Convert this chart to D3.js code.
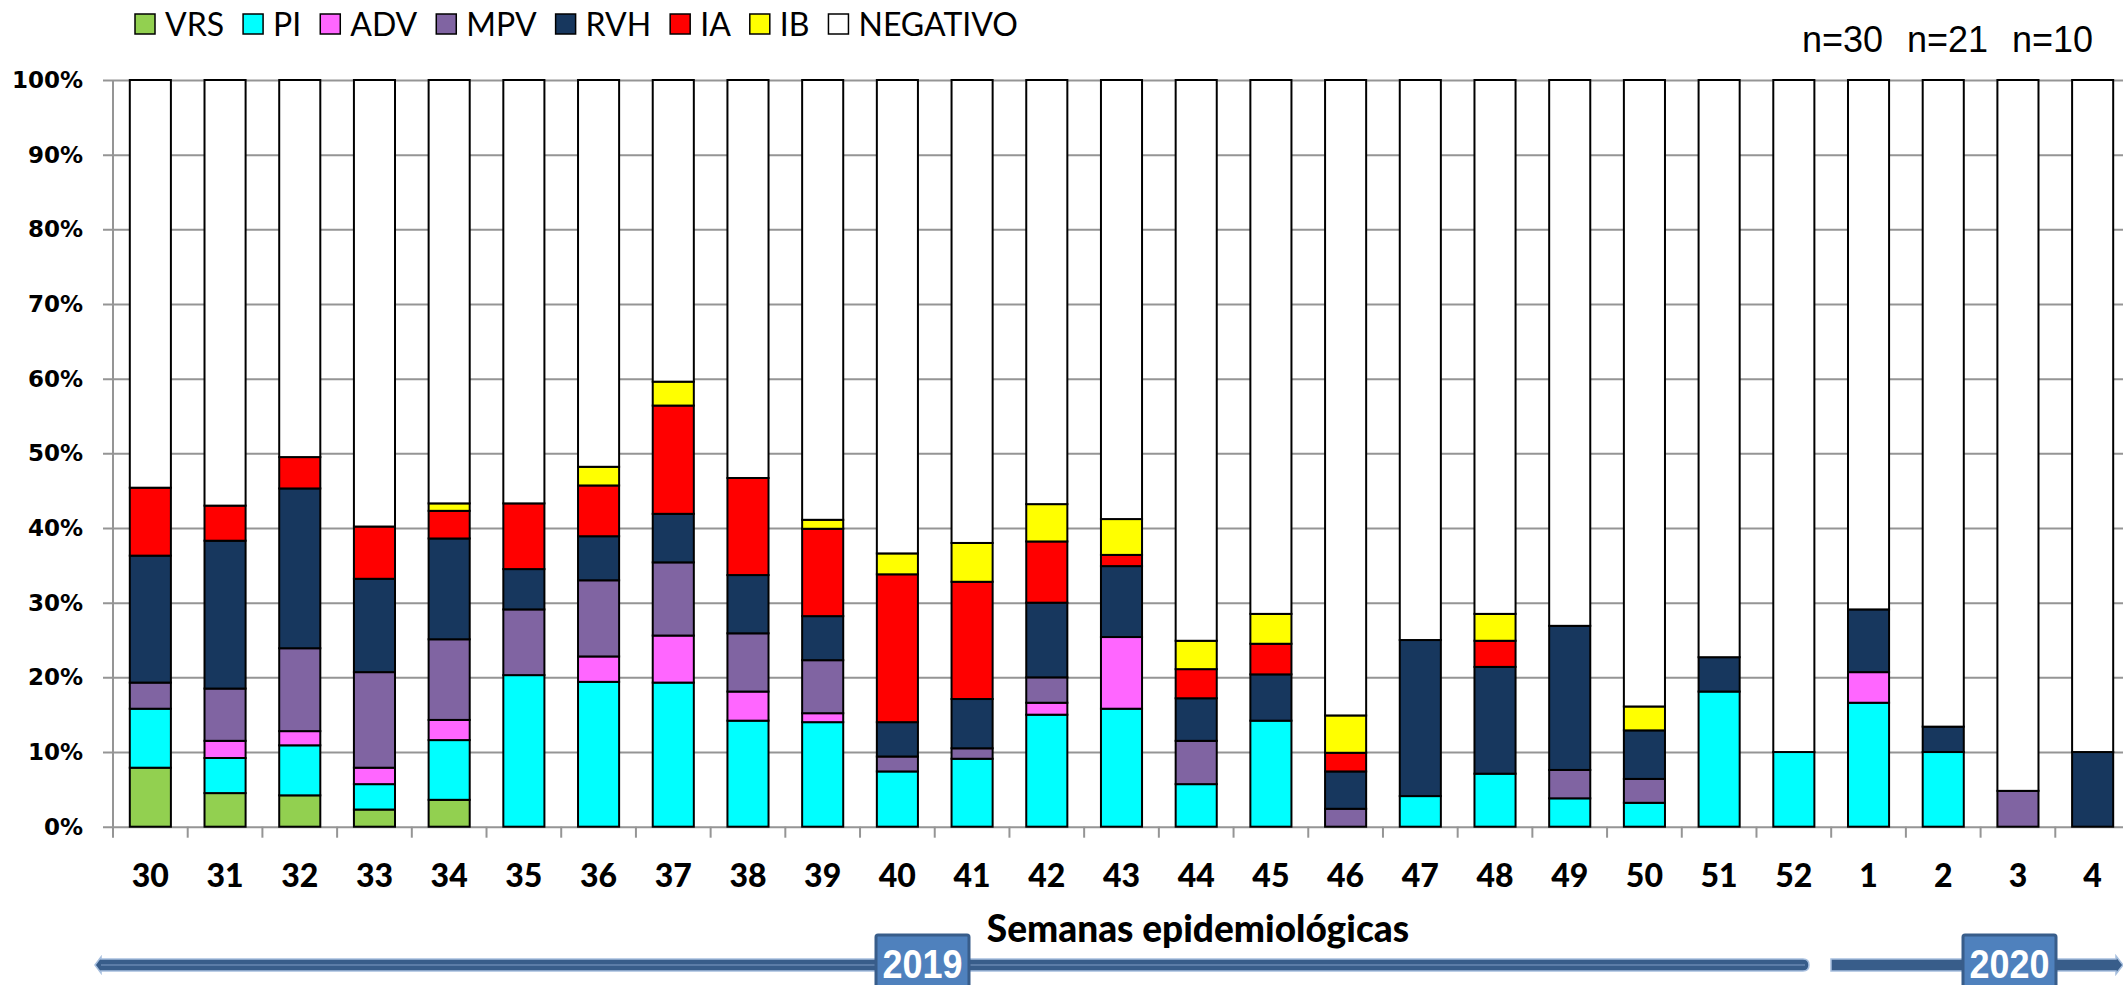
<!DOCTYPE html>
<html>
<head>
<meta charset="utf-8">
<script src="https://cdn.jsdelivr.net/npm/d3@7"></script>
<style>
  body { margin: 0; background: #fff; }
  svg { display: block; }
</style>
</head>
<body>
<div id="chart"></div>
<script>
// Semanas epidemiológicas 2019-2020, % de muestras por virus.
var weeks = ['30','31','32','33','34','35','36','37','38','39','40','41','42','43','44','45','46','47','48','49','50','51','52','1','2','3','4'];

var VRS = [7.9, 4.5, 4.2, 2.3, 3.6, 0, 0, 0, 0, 0, 0, 0, 0, 0, 0, 0, 0, 0, 0, 0, 0, 0, 0, 0, 0, 0, 0];
var PI  = [7.9, 4.7, 6.7, 3.4, 8.0, 20.3, 19.4, 19.3, 14.2, 14.0, 7.4, 9.1, 15.0, 15.8, 5.7, 14.2, 0, 4.1, 7.1, 3.8, 3.2, 18.1, 10.0, 16.6, 10.0, 0, 0];
var ADV = [0, 2.3, 1.9, 2.2, 2.7, 0, 3.4, 6.3, 3.9, 1.2, 0, 0, 1.6, 9.6, 0, 0, 0, 0, 0, 0, 0, 0, 0, 4.1, 0, 0, 0];
var MPV = [3.5, 7.0, 11.1, 12.8, 10.8, 8.8, 10.2, 9.8, 7.8, 7.1, 2.0, 1.4, 3.4, 0, 5.8, 0, 2.4, 0, 0, 3.8, 3.2, 0, 0, 0, 0, 4.8, 0];
var RVH = [17.0, 19.8, 21.4, 12.5, 13.5, 5.4, 5.9, 6.5, 7.8, 5.9, 4.6, 6.6, 10.0, 9.5, 5.7, 6.2, 5.0, 20.9, 14.3, 19.3, 6.5, 4.6, 0, 8.4, 3.4, 0, 10.0];
var IA  = [9.1, 4.7, 4.2, 7.0, 3.7, 8.8, 6.8, 14.5, 13.0, 11.7, 19.8, 15.7, 8.2, 1.5, 3.9, 4.1, 2.5, 0, 3.5, 0, 0, 0, 0, 0, 0, 0, 0];
var IB  = [0, 0, 0, 0, 1.0, 0, 2.5, 3.2, 0, 1.2, 2.8, 5.2, 5.0, 4.8, 3.8, 4.0, 5.0, 0, 3.6, 0, 3.2, 0, 0, 0, 0, 0, 0];

var seriesNames = ['VRS', 'PI', 'ADV', 'MPV', 'RVH', 'IA', 'IB', 'NEGATIVO'];
var seriesColors = ['#92D050', '#00FFFF', '#FF66FF', '#8064A2', '#17375E', '#FF0000', '#FFFF00', '#FFFFFF'];
var yTicks = [0, 10, 20, 30, 40, 50, 60, 70, 80, 90, 100];
var nLabels = ['n=30', 'n=21', 'n=10'];
var years = ['2019', '2020'];

var W = 2123, H = 985;
var plot = {left: 113, right: 2130, top: 80, bottom: 826.7};

var svg = d3.select('#chart').append('svg')
    .attr('width', W)
    .attr('height', H);

// Build rows for the stack; negative is the remainder to 100 %.
var positives = [VRS, PI, ADV, MPV, RVH, IA, IB];
var rows = weeks.map(function(w, i) {
    var r = {week: w}, sum = 0;
    positives.forEach(function(arr, k) { r[seriesNames[k]] = arr[i]; sum += arr[i]; });
    r.NEGATIVO = 100 - sum;
    return r;
});

var x = d3.scaleBand()
    .domain(weeks)
    .range([plot.left, plot.right])
    .paddingInner(0.45)
    .paddingOuter(0.225);

var y = d3.scaleLinear()
    .domain([0, 100])
    .range([plot.bottom, plot.top]);

var color = d3.scaleOrdinal().domain(seriesNames).range(seriesColors);

// Gridlines + y labels.
var yAxis = d3.axisLeft(y)
    .tickValues(yTicks)
    .tickSize(-(plot.right - plot.left))
    .tickSizeOuter(0)
    .tickPadding(30)
    .tickFormat(function(d) { return d + '%'; });

var gy = svg.append('g')
    .attr('transform', 'translate(' + plot.left + ',0)')
    .call(yAxis);
gy.select('.domain').remove();
gy.selectAll('.tick line')
    .attr('x1', -10)
    .attr('stroke', '#959595')
    .attr('stroke-width', 2);
gy.selectAll('.tick text')
    .attr('fill', '#000')
    .style('font-family', '"DejaVu Sans", Verdana, sans-serif')
    .style('font-weight', 'bold')
    .style('font-size', '23px');

// Vertical axis line.
svg.append('line')
    .attr('x1', plot.left).attr('x2', plot.left)
    .attr('y1', plot.top).attr('y2', plot.bottom + 11)
    .attr('stroke', '#959595')
    .attr('stroke-width', 2);

// Category ticks between the bars.
svg.append('g').selectAll('line')
    .data(weeks.slice(1))
    .enter().append('line')
    .attr('x1', function(d) { return x(d) - x.step() * x.paddingInner() / 2; })
    .attr('x2', function(d) { return x(d) - x.step() * x.paddingInner() / 2; })
    .attr('y1', plot.bottom)
    .attr('y2', plot.bottom + 11)
    .attr('stroke', '#959595')
    .attr('stroke-width', 2);

// Stacked bars.
var stack = d3.stack().keys(seriesNames);
var layers = stack(rows);

svg.append('g').selectAll('g')
    .data(layers)
    .enter().append('g')
    .attr('fill', function(d) { return color(d.key); })
  .selectAll('rect')
    .data(function(d) { return d.filter(function(s) { return s[1] - s[0] > 0; }); })
    .enter().append('rect')
    .attr('x', function(d) { return x(d.data.week); })
    .attr('width', x.bandwidth())
    .attr('y', function(d) { return y(d[1]); })
    .attr('height', function(d) { return y(d[0]) - y(d[1]); })
    .attr('stroke', '#000')
    .attr('stroke-width', 2);

// X labels.
svg.append('g').selectAll('text')
    .data(weeks)
    .enter().append('text')
    .attr('x', function(d) { return x(d) + x.bandwidth() / 2; })
    .attr('y', 887)
    .attr('text-anchor', 'middle')
    .style('font-family', 'Lato, sans-serif')
    .style('font-weight', 900)
    .style('font-size', '32px')
    .text(function(d) { return d; });

// Axis title.
svg.append('text')
    .attr('x', 1198)
    .attr('y', 942)
    .attr('text-anchor', 'middle')
    .style('font-family', 'Lato, sans-serif')
    .style('font-weight', 900)
    .style('font-size', '37px')
    .text('Semanas epidemiológicas');

// Legend.
var legend = svg.append('g');
var lx = 135;
seriesNames.forEach(function(name, i) {
    legend.append('rect')
        .attr('x', lx).attr('y', 14)
        .attr('width', 20).attr('height', 20)
        .attr('fill', seriesColors[i])
        .attr('stroke', '#000')
        .attr('stroke-width', 1.5);
    var t = legend.append('text')
        .attr('x', lx + 30)
        .attr('y', 36)
        .style('font-family', 'Lato, sans-serif')
        .style('font-size', '32px')
        .text(name);
    lx += 30 + t.node().getComputedTextLength() + 19;
});

// n= annotations.
var nX = [1802, 1907, 2012];
svg.append('g').selectAll('text')
    .data(nLabels)
    .enter().append('text')
    .attr('x', function(d, i) { return nX[i]; })
    .attr('y', 52)
    .style('font-family', '"Liberation Sans", Arial, sans-serif')
    .style('font-size', '36px')
    .text(function(d) { return d; });

// Year arrows.
var arrowFill = '#385D8A', arrowEdge = '#A7BFDE';
var ay = 965, ah = 6;
var g19 = svg.append('g');
g19.append('path')
    .attr('d', 'M' + 95 + ',' + ay + ' L' + 101 + ',' + (ay - ah - 2) + ' L' + 101 + ',' + (ay - ah) +
        ' L1803,' + (ay - ah) + ' Q1809,' + (ay - ah) + ' 1809,' + ay + ' Q1809,' + (ay + ah) + ' 1803,' + (ay + ah) +
        ' L101,' + (ay + ah) + ' L101,' + (ay + ah + 2) + ' Z')
    .attr('fill', arrowFill)
    .attr('stroke', arrowEdge)
    .attr('stroke-width', 1.5);
g19.append('line')
    .attr('x1', 101).attr('x2', 1805)
    .attr('y1', ay).attr('y2', ay)
    .attr('stroke', '#7f9cc4')
    .attr('stroke-width', 1);

svg.append('path')
    .attr('d', 'M1831,' + (ay - ah) + ' L2116,' + (ay - ah) + ' L2116,' + (ay - ah - 3) + ' L2123,' + ay +
        ' L2116,' + (ay + ah + 3) + ' L2116,' + (ay + ah) + ' L1831,' + (ay + ah) + ' Z')
    .attr('fill', arrowFill)
    .attr('stroke', arrowEdge)
    .attr('stroke-width', 1.5);

var boxX = [876, 1963];
years.forEach(function(yr, i) {
    svg.append('rect')
        .attr('x', boxX[i]).attr('y', 935)
        .attr('width', 93).attr('height', 60)
        .attr('rx', 2)
        .attr('fill', '#4F81BD')
        .attr('stroke', '#385D8A')
        .attr('stroke-width', 3);
    svg.append('text')
        .attr('x', boxX[i] + 46.5)
        .attr('y', 978)
        .attr('text-anchor', 'middle')
        .attr('textLength', 80)
        .attr('lengthAdjust', 'spacingAndGlyphs')
        .attr('fill', '#fff')
        .style('font-family', '"Liberation Sans Narrow", "Liberation Sans", Arial, sans-serif')
        .style('font-weight', 'bold')
        .style('font-size', '40px')
        .text(yr);
});
</script>
</body>
</html>
